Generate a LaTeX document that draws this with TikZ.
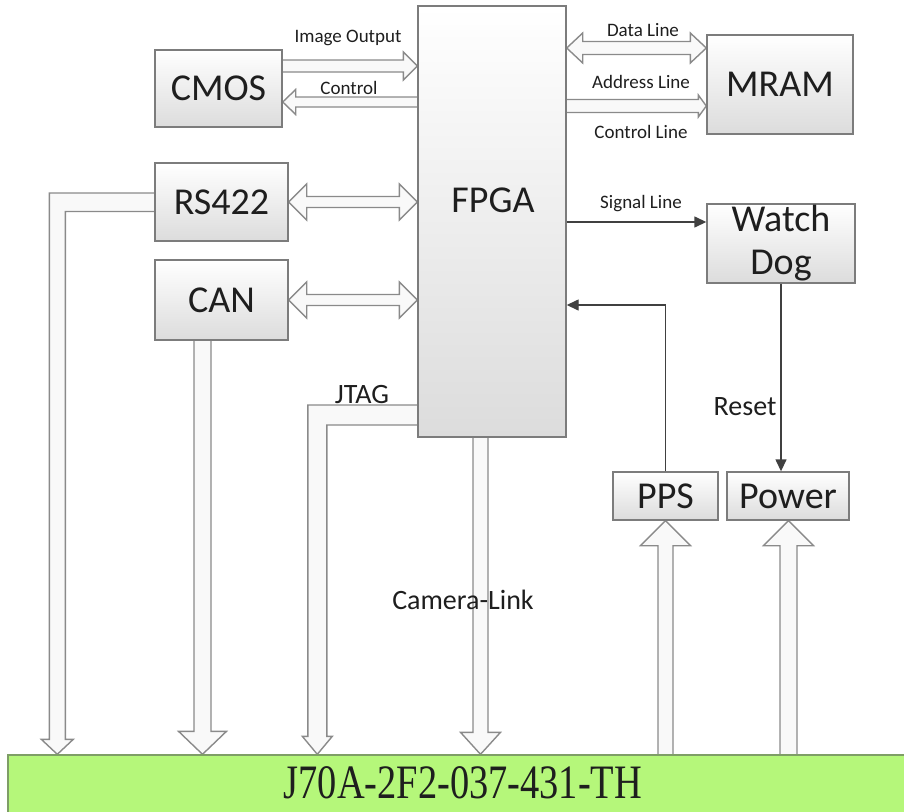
\documentclass[tikz,border=0pt]{standalone}
\usepackage{graphicx}
\usepackage{fontspec}
\setmainfont{Carlito}
\newfontfamily\barfont{Liberation Serif}
\usetikzlibrary{arrows.meta,calc,backgrounds}
\definecolor{ink}{HTML}{1E1E1E}
\definecolor{edge}{HTML}{7C7C7C}
\definecolor{pipe}{HTML}{8A8A8A}
\definecolor{boxbot}{HTML}{DCDCDC}
\definecolor{wire}{HTML}{404040}
\definecolor{lime}{HTML}{B5F77A}
\definecolor{limeedge}{HTML}{7E9E66}
\tikzset{
  >={Triangle[length=12pt,width=11pt]},
  every picture/.style={line width=1.4pt},
  bigtxt/.style={text=ink,font=\fontsize{38}{43}\selectfont},
  blk/.style={bigtxt,draw=edge,line width=1.4pt,top color=white,bottom color=boxbot,inner sep=0pt,align=center},
  lab/.style={text=ink,font=\fontsize{19}{22}\selectfont},
  labbig/.style={text=ink,font=\fontsize{28}{32}\selectfont},
  fat/.style={draw=pipe,line width=1.4pt,fill=gray!5,line join=miter},
  wirearr/.style={->,draw=wire,line width=1.4pt},
}
% hollow arrow: start, tip, half shaft, half head, head length
\newcommand\hollowarr[5]{%
  \coordinate (hh) at ($(#2)!#5!(#1)$);
  \draw[fat] ($(#1)!#3!90:(#2)$) -- ($(hh)!#3!90:(#2)$) -- ($(hh)!#4!90:(#2)$) -- (#2)
    -- ($(hh)!#4!-90:(#2)$) -- ($(hh)!#3!-90:(#2)$) -- ($(#1)!#3!-90:(#2)$);
}
% hollow arrow with two heads
\newcommand\hollowboth[5]{%
  \coordinate (ha) at ($(#1)!#5!(#2)$);
  \coordinate (hb) at ($(#2)!#5!(#1)$);
  \draw[fat] (#1) -- ($(ha)!#4!90:(#2)$) -- ($(ha)!#3!90:(#2)$) -- ($(hb)!#3!90:(#2)$)
    -- ($(hb)!#4!90:(#2)$) -- (#2) -- ($(hb)!#4!-90:(#2)$) -- ($(hb)!#3!-90:(#2)$)
    -- ($(ha)!#3!-90:(#2)$) -- ($(ha)!#4!-90:(#2)$) -- cycle;
}
\begin{document}
\begin{tikzpicture}[x=1pt,y=-1pt]
  \useasboundingbox (0,0) rectangle (904,811);
  % blocks
  \node[blk,minimum width=148,minimum height=431] (FPGA) at (492,221.5) {};
  \node[bigtxt] (fpgalab) at (493,200) {FPGA};
  \node[blk,minimum width=127,minimum height=77] (CMOS) at (218.5,88.5) {CMOS};
  \node[blk,minimum width=146,minimum height=99] (MRAM) at (780,84.5) {MRAM};
  \node[blk,minimum width=133,minimum height=78] (RS) at (221.5,202) {RS422};
  \node[blk,minimum width=133,minimum height=80] (CAN) at (221.5,300) {CAN};
  \node[blk,minimum width=148,minimum height=79] (WD) at (781,243.5) {Watch\\Dog};
  \node[blk,minimum width=105,minimum height=48] (PPS) at (665.5,496) {PPS};
  \node[blk,minimum width=122,minimum height=48] (Power) at (788,496) {Power};
  \node[draw=limeedge,fill=lime,line width=1.4pt,minimum width=910,minimum height=64,inner sep=0pt,text depth=8pt,
        text=ink,font=\barfont\fontsize{48}{52}\selectfont] (bar) at (463,787) {\scalebox{0.8}[1]{J70A-2F2-037-431-TH}};
  % labels
  \node[lab] (lio) at (348,38) {Image Output};
  \node[lab] (lct) at (349,88) {Control};
  \node[lab] (ldl) at (643,30) {Data Line};
  \node[lab] (lal) at (641,82) {Address Line};
  \node[lab] (lcl) at (641,132) {Control Line};
  \node[lab] (lsl) at (641,204) {Signal Line};
  \node[labbig] (lrs) at (745,407) {Reset};
  \node[labbig] (ljt) at (362,395) {JTAG};
  \node[labbig] (lcam) at (463,600) {Camera-Link};
  \begin{scope}[on background layer]
    % CMOS
    \coordinate (io1) at ($(CMOS.east)+(0,-22.5)$); \coordinate (io2) at (FPGA.west |- io1);
    \hollowarr{io1}{io2}{6pt}{14pt}{14pt}
    \coordinate (ct1) at ($(CMOS.east)+(0,13.5)$); \coordinate (ct2) at (FPGA.west |- ct1);
    \hollowarr{ct2}{ct1}{5pt}{12.5pt}{13pt}
    % MRAM
    \coordinate (dl2) at ($(MRAM.west)+(0,-36.5)$); \coordinate (dl1) at (FPGA.east |- dl2);
    \hollowboth{dl1}{dl2}{6.5pt}{15pt}{16pt}
    \coordinate (al2) at ($(MRAM.west)+(0,21.5)$); \coordinate (al1) at (FPGA.east |- al2);
    \hollowarr{al1}{al2}{6.5pt}{11pt}{8pt}
    % RS422, CAN
    \coordinate (rs2) at (FPGA.west |- RS.east);
    \hollowboth{RS.east}{rs2}{5.5pt}{18pt}{18pt}
    \coordinate (can2) at (FPGA.west |- CAN.east);
    \hollowboth{CAN.east}{can2}{5.5pt}{18pt}{18pt}
    \coordinate (cn1) at ($(CAN.south)+(-19,0)$); \coordinate (cn2) at (cn1 |- bar.north);
    \hollowarr{cn1}{cn2}{8.5pt}{24pt}{23pt}
    \coordinate (rstip) at ($(bar.north west)+(50,0)$);
    \draw[fat] ($(RS.west)+(0,-9)$) -| ($(rstip)+(-8,-15)$) -- ($(rstip)+(-16,-15)$) -- (rstip)
      -- ($(rstip)+(16,-15)$) -- ($(rstip)+(8,-15)$) |- ($(RS.west)+(0,9.5)$);
    % JTAG, Camera-Link
    \coordinate (jtip) at ($(FPGA.west |- bar.north)+(-100,0)$);
    \draw[fat] ($(FPGA.west)+(0,183.5)$) -| ($(jtip)+(-9.5,-18)$) -- ($(jtip)+(-15,-18)$) -- (jtip)
      -- ($(jtip)+(15,-18)$) -- ($(jtip)+(9.5,-18)$) |- ($(FPGA.west)+(0,203.5)$);
    \coordinate (cl1) at ($(FPGA.south)+(-11.5,0)$); \coordinate (cl2) at (cl1 |- bar.north);
    \hollowarr{cl1}{cl2}{7.5pt}{20pt}{22pt}
    % PPS, Power
    \coordinate (pp1) at (PPS.south |- bar.north);
    \hollowarr{pp1}{PPS.south}{7.5pt}{25pt}{25pt}
    \coordinate (pw2) at ($(Power.south)+(0.5,0)$); \coordinate (pw1) at (pw2 |- bar.north);
    \hollowarr{pw1}{pw2}{8.5pt}{25pt}{25pt}
  \end{scope}
  % thin lines
  \coordinate (sg2) at ($(WD.west)+(0,-21.5)$);
  \draw[wirearr] (FPGA.east |- sg2) -- (sg2);
  \draw[wirearr] (PPS.north) |- ($(FPGA.east)+(0,83.5)$);
  \draw[wirearr] (WD.south) -- (WD.south |- Power.north);
\end{tikzpicture}
\end{document}
